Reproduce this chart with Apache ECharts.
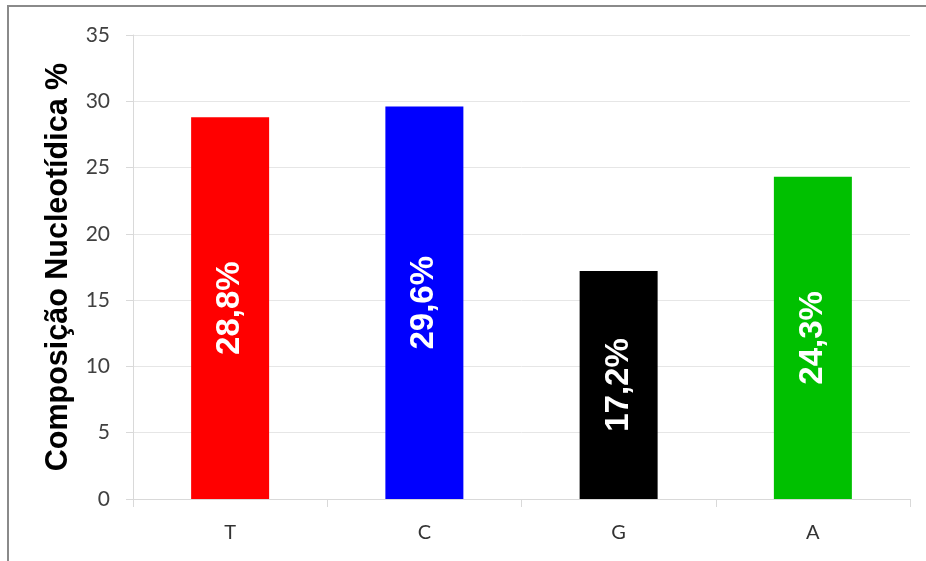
<!DOCTYPE html>
<html>
<head>
<meta charset="utf-8">
<script src="https://cdn.jsdelivr.net/npm/echarts@6/dist/echarts.min.js"></script>
<style>
  html, body { margin: 0; padding: 0; background: #fff; }
  #chart { width: 926px; height: 561px; }
</style>
</head>
<body>
<div id="chart"></div>
<script>
// Nucleotide composition (%)
const categories = ['T', 'C', 'G', 'A'];
const values = [28.8, 29.6, 17.2, 24.3];
const barColors = ['#ff0000', '#0000ff', '#000000', '#00c000'];
const yTicks = [0, 5, 10, 15, 20, 25, 30, 35];

const chart = echarts.init(document.getElementById('chart'), null, { renderer: 'canvas' });

const gridColor = '#e6e6e6';

chart.setOption({
  animation: false,
  backgroundColor: '#ffffff',
  graphic: [{
    type: 'rect',
    shape: { x: 8, y: 6, width: 940, height: 580 },
    style: { fill: 'none', stroke: '#8a8a8a', lineWidth: 2 },
    silent: true,
    z: 100
  }],
  grid: { left: 133, right: 16, top: 35, bottom: 62 },
  xAxis: {
    type: 'category',
    data: categories,
    axisLine: { show: true, lineStyle: { color: '#d9d9d9', width: 1 } },
    axisTick: { show: true, alignWithLabel: false, length: 8, lineStyle: { color: '#d9d9d9' } },
    axisLabel: {
      margin: 24,
      color: '#333333',
      fontSize: 20,
      fontFamily: 'Lato, "Open Sans", sans-serif'
    },
    splitLine: { show: false }
  },
  yAxis: {
    type: 'value',
    min: yTicks[0],
    max: yTicks[yTicks.length - 1],
    interval: 5,
    name: 'Composição Nucleotídica %',
    nameLocation: 'middle',
    nameGap: 59,
    nameRotate: 90,
    nameTextStyle: {
      color: '#000000',
      fontSize: 30.5,
      fontWeight: 'bold',
      fontFamily: '"Liberation Sans", Arial, sans-serif'
    },
    axisLine: { show: true, lineStyle: { color: '#d9d9d9', width: 1 } },
    axisTick: { show: true, length: 7, lineStyle: { color: '#d9d9d9' } },
    axisLabel: {
      margin: 23,
      color: '#404040',
      fontSize: 21,
      fontFamily: 'Lato, "Open Sans", sans-serif'
    },
    splitLine: { show: true, lineStyle: { color: gridColor, width: 1 } }
  },
  series: [{
    type: 'bar',
    barWidth: 78,
    data: values.map((v, i) => ({ value: v, itemStyle: { color: barColors[i] } })),
    label: {
      show: true,
      position: 'inside',
      rotate: 90,
      color: '#ffffff',
      fontSize: 33,
      fontWeight: 'bold',
      fontFamily: '"Liberation Sans", Arial, sans-serif',
      formatter: p => p.value.toFixed(1).replace('.', ',') + '%'
    }
  }]
});
</script>
</body>
</html>
